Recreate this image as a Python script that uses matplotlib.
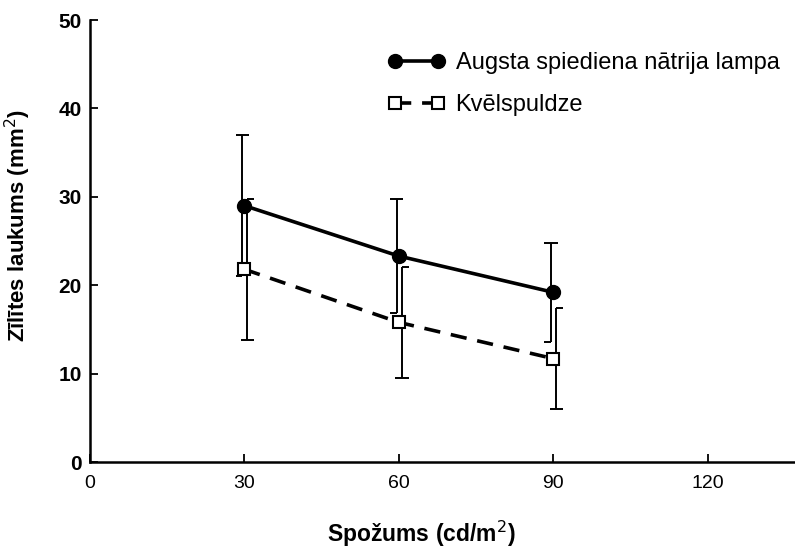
import matplotlib.pyplot as plt
import numpy as np

# data
luminance = [30, 60, 90]
hps_mean = [29.0, 23.3, 19.2]
hps_err = [8.0, 6.5, 5.6]
inc_mean = [21.8, 15.8, 11.7]
inc_err = [8.0, 6.3, 5.7]

hps_label = 'Augsta spiediena nātrija lampa'
inc_label = 'Kvēlspuldze'

plt.rcParams['font.family'] = ['Liberation Sans', 'DejaVu Sans']

fig = plt.figure(figsize=(7.95, 5.48), dpi=100)
ax = fig.add_axes([90 / 795, 1 - 462 / 548, 1 - 90 / 795, (462 - 20) / 548])

x = np.array(luminance, dtype=float)
hm, he = np.array(hps_mean), np.array(hps_err)
im, ie = np.array(inc_mean), np.array(inc_err)

elw = 1.4
cap = 1.3  # cap half-width in data units
# high pressure sodium: bars shifted slightly left, full top cap, half bottom cap to the left
xh = x - 0.4
ax.vlines(xh, hm - he, hm + he, color='black', lw=elw, zorder=2)
ax.hlines(hm + he, xh - cap, xh + cap, color='black', lw=elw, zorder=2)
ax.hlines(hm - he, xh - cap, xh, color='black', lw=elw, zorder=2)
# incandescent: bars shifted slightly right, half top cap to the right, full bottom cap
xi = x + 0.6
ax.vlines(xi, im - ie, im + ie, color='black', lw=elw, zorder=2)
ax.hlines(im + ie, xi, xi + cap, color='black', lw=elw, zorder=2)
ax.hlines(im - ie, xi - cap, xi + cap, color='black', lw=elw, zorder=2)

ax.plot(x, hm, color='black', lw=2.6, marker='o', markersize=10,
        label=hps_label, zorder=3)
ax.plot(x, im, color='black', lw=2.6, ls=(0, (4.5, 3)), marker='s',
        markersize=8.5, markerfacecolor='white', markeredgewidth=1.5,
        label=inc_label, zorder=3)

ax.set_xlim(0, 137)
ax.set_ylim(0, 50)
ax.set_xticks([0, 30, 60, 90, 120])
ax.set_yticks([0, 10, 20, 30, 40, 50])
ax.tick_params(direction='in', length=6, width=1.3)
ax.tick_params(axis='x', labelsize=14, pad=9)
ax.tick_params(axis='y', labelsize=15, pad=6)
for lab in ax.get_yticklabels():
    lab.set_fontweight('bold')
for s in ['top', 'right']:
    ax.spines[s].set_visible(False)
for s in ['left', 'bottom']:
    ax.spines[s].set_linewidth(1.8)

ax.set_xlabel('Spožums (cd/m$^2$)', fontsize=16.5, fontweight='bold')
ax.xaxis.set_label_coords((421 - 90) / 705, -(519 - 462) / 442)
ax.set_ylabel('Zīlītes laukums (mm$^2$)', fontsize=16, fontweight='bold')
ax.yaxis.set_label_coords(-(90 - 33) / 705, (462 - 226) / 442)

ax.legend(loc='upper left', bbox_to_anchor=(0.393, 0.975), frameon=False,
          numpoints=2, handlelength=2.4, fontsize=17, labelspacing=0.85,
          handletextpad=0.45)

fig.savefig('out.png', dpi=100)
